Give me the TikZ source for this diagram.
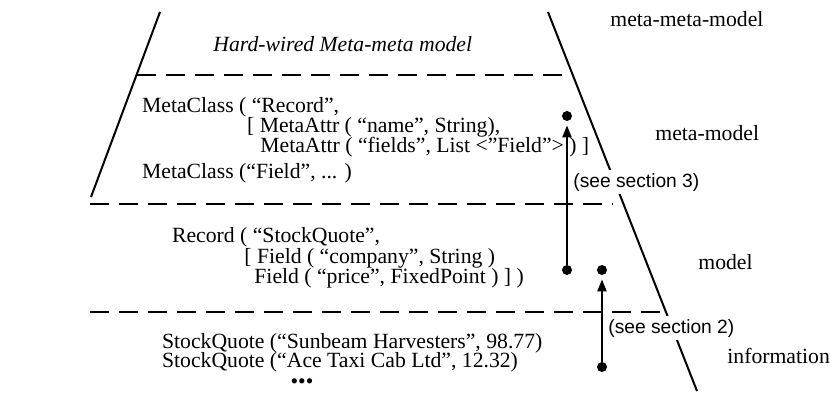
\documentclass[tikz,border=0pt]{standalone}
\usepackage{fontspec}
\setmainfont{Liberation Serif}
\newfontfamily\sectfont{Liberation Sans}
\usetikzlibrary{arrows.meta, positioning}

\begin{document}
\begin{tikzpicture}[x=0.5pt, y=-0.5pt, font=\fontsize{10.85}{13}\selectfont, txt/.style={anchor=base west, inner sep=0pt}, see/.style={anchor=base west, font=\sectfont\fontsize{9.6}{11}\selectfont, fill=white, inner xsep=1pt, inner ysep=1.5pt}, divider/.style={dash pattern=on 9.5pt off 5pt, line width=1.4pt}, side/.style={line width=1pt}, dot/.style={circle, fill, inner sep=0pt, minimum size=5pt}, flow/.style={line width=1.1pt, -{Triangle[length=6pt, width=4.5pt]}, shorten >=2pt}]

            \useasboundingbox (0,0) rectangle (830,396);

            \draw[side] (160,12) -- (91,197);
            \draw[side] (548,12) -- (697,391);

            \node[txt] (H) at (213,51) {\textit{Hard-wired Meta-meta model}};

            \node[txt] (M1) at (141.7,112) {MetaClass ( “Record”,};
            \node[txt] (M2) at (246.7,132) {[ MetaAttr ( “name”, String),};
            \node[txt] (M3) at (260,152) {MetaAttr ( “fields”, List <”Field”> ) ]};
            \node[txt] (M4) at (141.7,178) {MetaClass (“Field”, ... )};

            \node[txt] (R1) at (171.7,242) {Record ( “StockQuote”,};
            \node[txt] (R2) at (244,263) {[ Field ( “company”, String )};
            \node[txt] (R3) at (254,283) {Field ( “price”, FixedPoint ) ] )};

            \node[txt] (I1) at (161.7,348) {StockQuote (“Sunbeam Harvesters”, 98.77)};
            \node[txt] (I2) at (161.7,367) {StockQuote (“Ace Taxi Cab Ltd”, 12.32)};
            \node (I3) at (302,384) {•••};

            \node[txt] (L1) at (610,26) {meta-meta-model};
            \node[txt] (L2) at (655,140) {meta-model};
            \node[txt] (L3) at (698,269) {model};
            \node[txt] (L4) at (727,363) {information};

            \node[see] (S3) at (571,187) {(see section 3)};
            \node[see] (S2) at (606,333) {(see section 2)};

            \draw[divider] (137,75) -- (572,75);
            \draw[divider] (90,204) -- (613,204);
            \draw[divider] (90,312) -- (664,312);

            \node[dot] (D1) at (567,116) {};
            \node[dot] (D2) at (567,270) {};
            \node[dot] (D3) at (602,270) {};
            \node[dot] (D4) at (602,367) {};

            \path[flow]
            (D2) edge (D1)
            (D4) edge (D3);

        \end{tikzpicture}
\end{document}
